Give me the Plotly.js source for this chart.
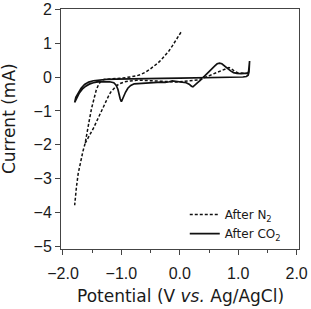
<!DOCTYPE html>
<html><head><meta charset="utf-8">
<script src="https://cdn.plot.ly/plotly-3.0.1.min.js"></script>
<style>html,body{margin:0;padding:0;background:#fff;}#chart{width:311px;height:309px;}</style>
</head><body><div id="chart"></div>
<script>
// After CO2 (solid) – closed CV loop
const co2Potential = [1.195,1.188,1.178,1.16,1.12,1.05,0.98,0.92,0.87,0.82,0.77,0.72,0.68,0.64,0.60,0.55,0.50,0.45,0.40,0.35,0.30,0.26,0.225,0.20,0.16,0.11,0.05,-0.02,-0.08,-0.13,-0.18,-0.25,-0.32,-0.40,-0.50,-0.60,-0.70,-0.78,-0.84,-0.89,-0.93,-0.97,-1.00,-1.02,-1.04,-1.06,-1.09,-1.13,-1.20,-1.30,-1.40,-1.48,-1.55,-1.61,-1.67,-1.72,-1.76,-1.80,
  -1.78,-1.74,-1.69,-1.63,-1.56,-1.48,-1.38,-1.25,-1.10,-0.90,-0.60,-0.30,0.00,0.30,0.60,0.90,1.08,1.14,1.17,1.185,1.195];
const co2Current = [0.47,0.30,0.16,0.115,0.105,0.10,0.105,0.13,0.18,0.25,0.33,0.39,0.41,0.39,0.33,0.24,0.14,0.05,-0.03,-0.10,-0.17,-0.24,-0.29,-0.27,-0.21,-0.17,-0.155,-0.14,-0.12,-0.115,-0.14,-0.16,-0.15,-0.155,-0.165,-0.17,-0.18,-0.20,-0.25,-0.33,-0.45,-0.62,-0.73,-0.65,-0.50,-0.36,-0.24,-0.17,-0.14,-0.135,-0.145,-0.17,-0.21,-0.27,-0.36,-0.47,-0.60,-0.75,
  -0.60,-0.46,-0.33,-0.22,-0.15,-0.11,-0.085,-0.07,-0.06,-0.05,-0.045,-0.04,-0.03,-0.025,-0.015,-0.005,0.0,0.015,0.05,0.15,0.47];
// After N2 (dotted) – two branches separated by a gap
const n2Potential = [0.02,-0.03,-0.08,-0.13,-0.19,-0.25,-0.31,-0.37,-0.44,-0.51,-0.58,-0.66,-0.75,-0.85,-0.97,-1.10,-1.22,-1.30,-1.35,-1.39,-1.43,-1.47,-1.51,-1.55,-1.59,-1.62,-1.66,-1.70,-1.74,-1.77,-1.80,
  null,
  -1.62,-1.57,-1.52,-1.476,-1.43,-1.39,-1.35,-1.30,-1.26,-1.22,-1.18,-1.13,-1.08,-1.02,-0.95,-0.85,-0.74,-0.60,-0.45,-0.35,-0.25,-0.15,-0.05,0.05,0.15,0.25,0.33,0.40,0.48,0.56,0.64,0.72,0.79,0.84,0.88,0.94,1.00,1.08,1.15];
const n2Current = [1.32,1.17,1.04,0.91,0.76,0.63,0.52,0.42,0.32,0.23,0.15,0.08,0.03,-0.005,-0.03,-0.045,-0.05,-0.07,-0.12,-0.22,-0.38,-0.62,-0.92,-1.28,-1.68,-1.95,-2.2,-2.48,-2.85,-3.25,-3.78,
  null,
  -1.95,-1.80,-1.63,-1.50,-1.33,-1.18,-1.00,-0.84,-0.69,-0.56,-0.44,-0.33,-0.25,-0.19,-0.145,-0.115,-0.095,-0.10,-0.11,-0.12,-0.13,-0.15,-0.15,-0.13,-0.12,-0.11,-0.08,-0.035,0.02,0.07,0.12,0.18,0.24,0.28,0.25,0.17,0.12,0.105,0.11];
const seriesNames = ['After N<sub>2</sub>', 'After CO<sub>2</sub>'];
const xTickVals = [-2, -1, 0, 1, 2];
const xMinorTickVals = [-1.5, -0.5, 0.5, 1.5];
const yTickVals = [-5, -4, -3, -2, -1, 0, 1, 2];
const xTitle = 'Potential (V <i>vs.</i> Ag/AgCl)';
const yTitle = 'Current (mA)';

const tickFont = {family: 'Liberation Sans, Arial, sans-serif', size: 16, color: '#1a1a1a'};
const titleFont = {family: 'DejaVu Sans, sans-serif', size: 17, color: '#1a1a1a'};
const axisColor = '#444';

const traces = [
  {x: n2Potential, y: n2Current, name: seriesNames[0], type: 'scatter', mode: 'lines',
   line: {color: '#111', width: 1.5, dash: '3px,2px'}, connectgaps: false},
  {x: co2Potential, y: co2Current, name: seriesNames[1], type: 'scatter', mode: 'lines',
   line: {color: '#111', width: 1.7}}
];

const layout = {
  width: 311, height: 309,
  margin: {l: 61, r: 12, t: 9, b: 60},
  paper_bgcolor: '#fff', plot_bgcolor: '#fff',
  showlegend: true,
  legend: {x: 0.52, xanchor: 'left', y: 0.204, yanchor: 'top', bgcolor: 'rgba(0,0,0,0)',
           font: {family: 'DejaVu Sans, sans-serif', size: 12, color: '#1a1a1a'},
           tracegroupgap: 0, itemwidth: 30},
  xaxis: {range: [-2.034, 2.041], tickvals: xTickVals, tickformat: '.1f',
          ticks: 'outside', ticklen: 5, tickwidth: 1, tickcolor: axisColor,
          minor: {tickvals: xMinorTickVals, ticks: 'outside', ticklen: 3, tickwidth: 1, tickcolor: axisColor},
          showline: true, linecolor: axisColor, linewidth: 1, mirror: true,
          showgrid: false, zeroline: false, tickfont: tickFont, ticklabelstandoff: 5},
  yaxis: {range: [-5.07, 2.005], tickvals: yTickVals,
          ticks: 'outside', ticklen: 5, tickwidth: 1, tickcolor: axisColor,
          showline: true, linecolor: axisColor, linewidth: 1, mirror: true,
          showgrid: false, zeroline: false, tickfont: tickFont},
  annotations: [
    {text: xTitle, xref: 'paper', yref: 'paper', x: 0.5, y: -0.195, xanchor: 'center', yanchor: 'middle',
     showarrow: false, font: titleFont},
    {text: yTitle, xref: 'paper', yref: 'paper', x: -0.218, y: 0.542, xanchor: 'center', yanchor: 'middle',
     textangle: -90, showarrow: false, font: titleFont}
  ]
};

Plotly.newPlot('chart', traces, layout, {staticPlot: true, displayModeBar: false});
</script>
</body></html>
